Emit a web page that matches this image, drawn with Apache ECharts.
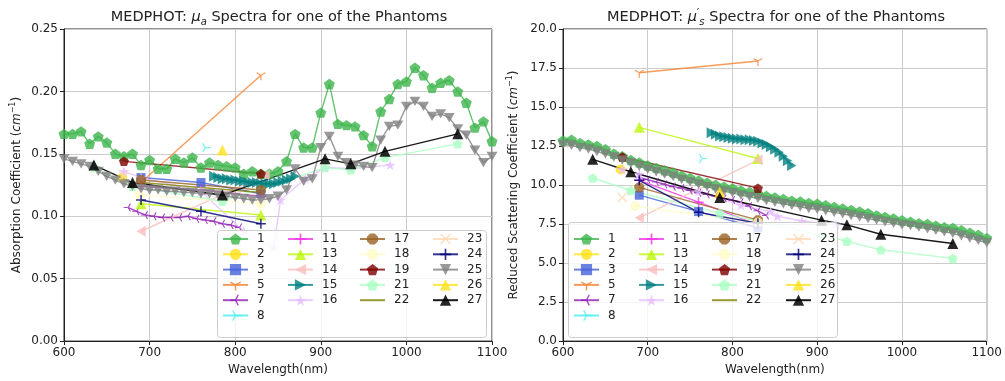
<!DOCTYPE html>
<html>
<head>
<meta charset="utf-8">
<script src="https://cdn.jsdelivr.net/npm/echarts@6/dist/echarts.min.js"></script>
<style>
  html, body { margin: 0; padding: 0; background: #fff; }
  #chart { width: 1005px; height: 381px; }
</style>
</head>
<body>
<div id="chart"></div>
<script>
// wavelength grids (nm)
const wl10 = [600, 610, 620, 630, 640, 650, 660, 670, 680, 690, 700, 710, 720, 730, 740, 750, 760, 770, 780, 790,
  800, 810, 820, 830, 840, 850, 860, 870, 880, 890, 900, 910, 920, 930, 940, 950, 960, 970, 980, 990,
  1000, 1010, 1020, 1030, 1040, 1050, 1060, 1070, 1080, 1090, 1100];
const wl7 = [635, 680, 785, 905, 935, 975, 1060];
const wl3 = [690, 760, 830];
const wl2 = [690, 830];
const wlS7a = [675, 685, 695, 705, 715, 725, 735, 745, 755, 765, 775, 785, 795, 805];
const wlS7s = [690, 700, 710, 720, 730, 740, 750, 760, 770, 780, 790, 800, 810, 820, 830, 840];
const wlS15 = [775, 780, 785, 790, 795, 800, 805, 810, 815, 820, 825, 830, 835, 840, 845, 850, 855, 860, 865, 870];
const wlS16a = [670, 690, 760, 810, 845, 853, 882, 905, 935, 981];
const wlS16s = [670, 690, 760, 810, 845, 853, 882, 905, 922];

// absorption (mua, cm^-1)
const mua1 = [0.166, 0.166, 0.168, 0.158, 0.164, 0.159, 0.150, 0.148, 0.150, 0.141, 0.145, 0.138, 0.138, 0.146, 0.143,
  0.147, 0.139, 0.143, 0.141, 0.140, 0.139, 0.134, 0.136, 0.134, 0.134, 0.136, 0.144, 0.166, 0.155, 0.155,
  0.183, 0.206, 0.174, 0.173, 0.172, 0.165, 0.156, 0.184, 0.194, 0.206, 0.208, 0.219, 0.213, 0.203, 0.207,
  0.209, 0.200, 0.191, 0.171, 0.176, 0.160];
const mua25 = [0.146, 0.144, 0.142, 0.140, 0.136, 0.132, 0.129, 0.126, 0.124, 0.122, 0.121, 0.121, 0.120, 0.120, 0.119,
  0.119, 0.118, 0.118, 0.117, 0.116, 0.115, 0.114, 0.113, 0.113, 0.114, 0.116, 0.121, 0.138, 0.128, 0.130,
  0.155, 0.164, 0.148, 0.143, 0.141, 0.140, 0.139, 0.161, 0.172, 0.173, 0.188, 0.192, 0.188, 0.180, 0.182,
  0.179, 0.170, 0.165, 0.153, 0.143, 0.148];
const mua27 = [0.141, 0.127, 0.117, 0.146, 0.142, 0.152, 0.166];
const mua21 = [0.139, 0.124, 0.112, 0.139, 0.137, 0.147, 0.158];
const mua7 = [0.107, 0.104, 0.101, 0.100, 0.099, 0.099, 0.099, 0.100, 0.098, 0.097, 0.096, 0.094, 0.093, 0.091];
const mua15 = [0.132, 0.131, 0.130, 0.130, 0.129, 0.129, 0.128, 0.128, 0.127, 0.127, 0.127, 0.126, 0.126, 0.126,
  0.126, 0.127, 0.128, 0.129, 0.130, 0.132];
const mua16 = [0.136, 0.131, 0.120, 0.088, 0.075, 0.113, 0.130, 0.139, 0.138, 0.141];
const mua3 = [0.131, 0.127, 0.118];
const mua24 = [0.113, 0.104, 0.094];
const mua11 = [0.124, 0.121, 0.116];
const mua5 = [0.127, 0.213];
const mua13 = [0.110, 0.101];
const mua14 = [0.088, 0.133];
const mua17 = [0.129, 0.121];
const mua18 = [0.117, 0.110];
const mua19 = [0.144, 0.134];
const mua22 = [0.127, 0.119];

// reduced scattering (mus', cm^-1)
const mus1 = [12.85, 12.9, 12.7, 12.6, 12.5, 12.3, 12.0, 11.85, 11.6, 11.45, 11.25, 11.1, 10.95, 10.8, 10.6, 10.45,
  10.3, 10.15, 10.0, 9.9, 9.8, 9.65, 9.55, 9.45, 9.3, 9.2, 9.1, 9.0, 8.95, 8.85, 8.8, 8.7, 8.6, 8.5, 8.4, 8.3,
  8.2, 8.05, 7.95, 7.85, 7.75, 7.65, 7.55, 7.5, 7.4, 7.3, 7.25, 7.1, 6.95, 6.8, 6.6];
const mus25 = [12.6, 12.55, 12.4, 12.3, 12.15, 12.0, 11.8, 11.6, 11.4, 11.2, 11.0, 10.85, 10.7, 10.55, 10.35, 10.2,
  10.05, 9.9, 9.75, 9.6, 9.5, 9.35, 9.25, 9.15, 9.0, 8.9, 8.8, 8.7, 8.6, 8.5, 8.45, 8.35, 8.25, 8.15, 8.05, 7.95,
  7.85, 7.75, 7.65, 7.55, 7.45, 7.4, 7.3, 7.2, 7.1, 7.0, 6.9, 6.75, 6.6, 6.45, 6.3];
const mus27 = [11.65, 10.85, 9.2, 7.75, 7.45, 6.85, 6.25];
const mus21 = [10.45, 9.65, 8.2, 6.8, 6.4, 5.85, 5.3];
const mus7 = [10.5, 10.35, 10.2, 10.05, 9.9, 9.8, 9.65, 9.5, 9.4, 9.3, 9.15, 9.05, 8.9, 8.65, 8.35, 8.05];
const mus15 = [13.35, 13.25, 13.15, 13.1, 13.05, 13.0, 12.95, 12.95, 12.9, 12.9, 12.85, 12.8, 12.7, 12.6, 12.45,
  12.3, 12.1, 11.85, 11.55, 11.25];
const mus16 = [11.0, 10.7, 9.6, 8.7, 8.3, 8.0, 7.7, 7.55, 7.45];
const mus3 = [9.35, 8.3, 7.25];
const mus24 = [10.3, 8.25, 7.55];
const mus11 = [10.3, 8.9, 7.45];
const mus5 = [17.2, 17.95];
const mus13 = [13.7, 11.7];
const mus14 = [7.9, 11.6];
const mus17 = [9.85, 7.75];
const mus18 = [8.65, 7.6];
const mus19 = [11.8, 9.8];
const mus22 = [10.1, 9.8];

const SYM = {
  pentagon: 'path://M0,-10L9.51,-3.09L5.88,8.09L-5.88,8.09L-9.51,-3.09Z',
  triDown: 'path://M-10,-7L10,-7L0,10Z',
  triLeft: 'path://M7,-10L7,10L-10,0Z',
  triRight: 'path://M-7,-10L-7,10L10,0Z',
  star: 'path://M0,-10L2.245,-3.09L9.51,-3.09L3.633,1.18L5.878,8.09L0,3.82L-5.878,8.09L-3.633,1.18L-9.51,-3.09L-2.245,-3.09Z',
  octagon: 'path://M-3.83,-9.24L3.83,-9.24L9.24,-3.83L9.24,3.83L3.83,9.24L-3.83,9.24L-9.24,3.83L-9.24,-3.83Z',
  plus: 'path://M-1.5,-10H1.5V-1.5H10V1.5H1.5V10H-1.5V1.5H-10V-1.5H-1.5Z',
  cross: 'path://M-10,-8L-8,-10L0,-2L8,-10L10,-8L2,0L10,8L8,10L0,2L-8,10L-10,8L-2,0Z',
  y1: 'path://M-1.2,0L1.2,0L1.2,10L-1.2,10Z M0.6,-1.04L-8.06,-6.04L-9.26,-3.96L-0.6,1.04Z M-0.6,-1.04L8.06,-6.04L9.26,-3.96L0.6,1.04Z M-0.01,-10L0.01,-10L0,-9.99Z',
  y3: 'path://M0,-1.2L-10,-1.2L-10,1.2L0,1.2Z M1.04,0.6L6.04,-8.06L3.96,-9.26L-1.04,-0.6Z M1.04,-0.6L6.04,8.06L3.96,9.26L-1.04,0.6Z M10,-0.01L10,0.01L9.99,0Z',
  y4: 'path://M0,-1.2L10,-1.2L10,1.2L0,1.2Z M-1.04,0.6L-6.04,-8.06L-3.96,-9.26L1.04,-0.6Z M-1.04,-0.6L-6.04,8.06L-3.96,9.26L1.04,0.6Z M-10,-0.01L-10,0.01L-9.99,0Z'
};

// name, symbol, colour, size, [wl, mua], [wl, mus]
const SERIES = [
  ['1', SYM.pentagon, '#3cb44b', 11, [wl10, mua1], [wl10, mus1]],
  ['2', 'circle', '#ffe119', 10, [[668], [0.131]], [[668], [11.0]]],
  ['3', 'rect', '#4363d8', 9, [wl3, mua3], [wl3, mus3]],
  ['5', SYM.y1, '#f58231', 10, [wl2, mua5], [wl2, mus5]],
  ['7', SYM.y3, '#911eb4', 9, [wlS7a, mua7], [wlS7s, mus7]],
  ['8', SYM.y4, '#46f0f0', 10, [[765], [0.155]], [[764], [11.7]]],
  ['11', SYM.plus, '#f032e6', 10, [wl3, mua11], [wl3, mus11]],
  ['13', 'triangle', '#bcf60c', 11, [wl2, mua13], [wl2, mus13]],
  ['14', SYM.triLeft, '#fabebe', 11, [[690, 835], mua14], [wl2, mus14]],
  ['15', SYM.triRight, '#008080', 11, [wlS15, mua15], [wlS15, mus15]],
  ['16', SYM.star, '#e6beff', 11, [wlS16a, mua16], [wlS16s, mus16]],
  ['17', SYM.octagon, '#9a6324', 10, [wl2, mua17], [wl2, mus17]],
  ['18', 'circle', '#fffac8', 10, [[688, 830], mua18], [[685, 830], mus18]],
  ['19', SYM.pentagon, '#800000', 10, [[670, 830], mua19], [[670, 830], mus19]],
  ['21', SYM.pentagon, '#aaffc3', 10, [wl7, mua21], [wl7, mus21]],
  ['22', 'none', '#808000', 10, [wl2, mua22], [[760, 790], mus22]],
  ['23', SYM.cross, '#ffd8b1', 10, [[670], [0.132]], [[670], [9.2]]],
  ['24', SYM.plus, '#000075', 10, [wl3, mua24], [wl3, mus24]],
  ['25', SYM.triDown, '#808080', 11, [wl10, mua25], [wl10, mus25]],
  ['26', 'triangle', '#ffe119', 11, [[785], [0.153]], [[785], [9.55]]],
  ['27', 'triangle', '#000000', 11, [wl7, mua27], [wl7, mus27]]
];

const LEGEND_COLS = [
  ['1', '2', '3', '5', '7', '8'],
  ['11', '13', '14', '15', '16'],
  ['17', '18', '19', '21', '22'],
  ['23', '24', '25', '26', '27']
];

function pairs(xs, ys) {
  return xs.map((x, i) => [x, ys[i]]);
}

const FONT = 'DejaVu Sans';
const TXT = '#222';

function makeSeries(s, k) {
  const src = k === 0 ? s[4] : s[5];
  return {
    name: s[0],
    type: 'line',
    xAxisIndex: k,
    yAxisIndex: k,
    data: pairs(src[0], src[1]),
    symbol: s[1],
    symbolSize: s[3],
    showAllSymbol: true,
    symbolKeepAspect: true,
    lineStyle: { color: s[2], width: 1.4, opacity: s[0] === '27' ? 0.9 : 0.8 },
    itemStyle: { color: s[2], borderWidth: 0, opacity: s[0] === '27' ? 0.85 : 0.8 },
    emphasis: { disabled: true },
    silent: true
  };
}

function axisX(k) {
  return {
    type: 'value', gridIndex: k, min: 600, max: 1100, interval: 100,
    name: 'Wavelength(nm)', nameLocation: 'middle', nameGap: 22,
    nameTextStyle: { fontFamily: FONT, fontSize: 12, color: TXT },
    axisLine: { lineStyle: { color: '#222' } },
    axisTick: { length: 4, lineStyle: { color: '#222' } },
    axisLabel: { fontFamily: FONT, fontSize: 12, color: TXT, margin: 6, formatter: v => String(v) },
    splitLine: { lineStyle: { color: '#cccccc', width: 1 } }
  };
}

const supRich = {
  i: { fontFamily: FONT, fontSize: 12, fontStyle: 'italic', color: TXT },
  sup: { fontFamily: FONT, fontSize: 8, color: TXT, verticalAlign: 'top', lineHeight: 16 }
};

const titleRich = {
  mu: { fontFamily: FONT, fontSize: 14.5, fontStyle: 'italic', color: TXT, lineHeight: 18 },
  sub: { fontFamily: FONT, fontSize: 10, fontStyle: 'italic', color: TXT, verticalAlign: 'bottom', lineHeight: 19 },
  sup: { fontFamily: FONT, fontSize: 11, color: TXT, verticalAlign: 'top', lineHeight: 18 }
};

const legends = [];
const colLeft = [[222, 287, 359, 432], [573, 638, 711, 785]];
[0, 1].forEach(k => {
  LEGEND_COLS.forEach((names, c) => {
    legends.push({
      // series 22 has no marker: hide its legend symbol, keep the line
      data: names.map(n => (n === '22' ? { name: n, itemStyle: { opacity: 0 } } : n)),
      orient: 'vertical', left: colLeft[k][c], top: 233,
      itemWidth: 25, itemHeight: 14, itemGap: 3.3, padding: 0, z: 120,
      selectedMode: false,
      textStyle: { fontFamily: FONT, fontSize: 12, color: TXT, padding: [0, 0, 0, 4] }
    });
  });
});

const chart = echarts.init(document.getElementById('chart'), null, { renderer: 'canvas' });
chart.setOption({
  animation: false,
  backgroundColor: '#fff',
  title: [
    { text: 'MEDPHOT: {mu|μ}{sub|a} Spectra for one of the Phantoms', left: 279, top: 8, textAlign: 'center', padding: 0,
      textStyle: { fontFamily: FONT, fontSize: 14.5, fontWeight: 'normal', color: TXT, lineHeight: 18, rich: titleRich } },
    { text: 'MEDPHOT: {mu|μ}{sup|′}{sub|s} Spectra for one of the Phantoms', left: 776, top: 8, textAlign: 'center', padding: 0,
      textStyle: { fontFamily: FONT, fontSize: 14.5, fontWeight: 'normal', color: TXT, lineHeight: 18, rich: titleRich } }
  ],
  grid: [
    { left: 64, top: 29, width: 428, height: 315, show: true, borderColor: '#222', borderWidth: 1, backgroundColor: 'transparent' },
    { left: 563, top: 29, width: 426, height: 315, show: true, borderColor: '#222', borderWidth: 1, backgroundColor: 'transparent' }
  ],
  xAxis: [axisX(0), axisX(1)],
  yAxis: [
    { type: 'value', gridIndex: 0, min: 0, max: 0.25, interval: 0.05,
      name: 'Absorption Coefficient ({i|cm}{sup|−1})', nameLocation: 'middle', nameGap: 39,
      nameTextStyle: { fontFamily: FONT, fontSize: 12, color: TXT, rich: supRich },
      axisLine: { show: true, lineStyle: { color: '#222' } },
      axisTick: { show: true, length: 4, lineStyle: { color: '#222' } },
      axisLabel: { fontFamily: FONT, fontSize: 12, color: TXT, margin: 6, formatter: v => v.toFixed(2) },
      splitLine: { lineStyle: { color: '#cccccc', width: 1 } } },
    { type: 'value', gridIndex: 1, min: 0, max: 20, interval: 2.5,
      name: 'Reduced Scattering Coefficient ({i|cm}{sup|−1})', nameLocation: 'middle', nameGap: 41,
      nameTextStyle: { fontFamily: FONT, fontSize: 12, color: TXT, rich: supRich },
      axisLine: { show: true, lineStyle: { color: '#222' } },
      axisTick: { show: true, length: 4, lineStyle: { color: '#222' } },
      axisLabel: { fontFamily: FONT, fontSize: 12, color: TXT, margin: 6, formatter: v => v.toFixed(1) },
      splitLine: { lineStyle: { color: '#cccccc', width: 1 } } }
  ],
  legend: legends,
  graphic: [
    { type: 'rect', z: 100, silent: true, shape: { x: 217.5, y: 230.5, width: 269, height: 107, r: 3 },
      style: { fill: 'rgba(255,255,255,0.8)', stroke: '#cccccc', lineWidth: 1 } },
    { type: 'rect', z: 100, silent: true, shape: { x: 568.5, y: 222.5, width: 269, height: 115, r: 3 },
      style: { fill: 'rgba(255,255,255,0.8)', stroke: '#cccccc', lineWidth: 1 } }
  ],
  series: SERIES.map(s => makeSeries(s, 0)).concat(SERIES.map(s => makeSeries(s, 1)))
});
</script>
</body>
</html>
